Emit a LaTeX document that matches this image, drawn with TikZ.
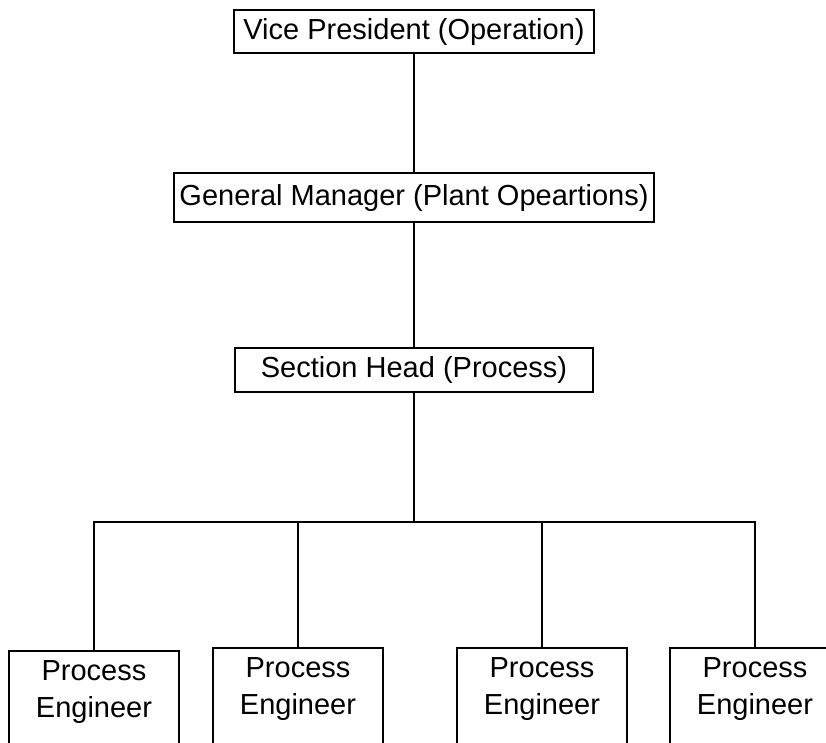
\documentclass[tikz,border=0pt]{standalone}
\usepackage{fontspec}
\setmainfont{Liberation Sans}
\begin{document}
\begin{tikzpicture}[x=1pt,y=-1pt,
  box/.style={draw=black,line width=1.6pt,inner sep=0pt,outer sep=0pt,
    font=\fontsize{29}{37}\selectfont},
  pebox/.style={draw=black,line width=1.6pt,inner sep=0pt,outer sep=0pt,
    minimum width=170pt,minimum height=200pt,anchor=north},
  petext/.style={inner sep=0pt,outer sep=0pt,align=center,
    font=\fontsize{29}{37}\selectfont},
  conn/.style={line width=1.6pt,line cap=rect}]
\useasboundingbox (0,0) rectangle (826,742);
\clip (0,0) rectangle (826,742);
\fill[white] (0,0) rectangle (826,742);
% top chain
\node[box,minimum width=360pt,minimum height=43pt] (vp) at (414,31.5) {Vice President (Operation)};
\node[box,minimum width=480pt,minimum height=49pt] (gm) at (414,197.5) {General Manager (Plant Opeartions)};
\node[box,minimum width=358pt,minimum height=44pt] (sh) at (414,370) {Section Head (Process)};
% bottom boxes
\node[pebox] (pe1) at (94,651) {};
\node[pebox] (pe2) at (298,648) {};
\node[pebox] (pe3) at (542,648) {};
\node[pebox] (pe4) at (755,648) {};
\node[petext] (pe1t) at (94,692) {Process\\Engineer};
\node[petext] (pe2t) at (298,689) {Process\\Engineer};
\node[petext] (pe3t) at (542,689) {Process\\Engineer};
\node[petext] (pe4t) at (755,689) {Process\\Engineer};
% connectors
\coordinate (bus) at (414,522);
\draw[line width=1.6pt] (vp.south) -- (gm.north);
\draw[line width=1.6pt] (gm.south) -- (sh.north);
\draw[line width=1.6pt] (sh.south) -- (bus);
\draw[line width=1.6pt] (pe1.north) |- (bus) -| (pe4.north);
\draw[line width=1.6pt] (pe2.north) -- (pe2.north |- bus);
\draw[line width=1.6pt] (pe3.north) -- (pe3.north |- bus);
\end{tikzpicture}
\end{document}
